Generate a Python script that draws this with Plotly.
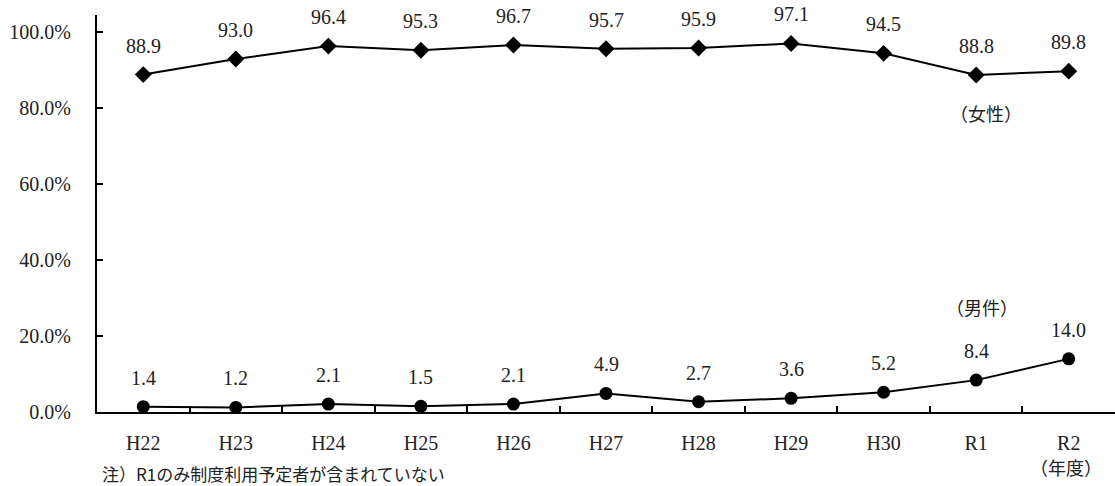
import plotly.graph_objects as go

years = ["H22", "H23", "H24", "H25", "H26", "H27", "H28", "H29", "H30", "R1", "R2"]
female = [88.9, 93.0, 96.4, 95.3, 96.7, 95.7, 95.9, 97.1, 94.5, 88.8, 89.8]
male = [1.4, 1.2, 2.1, 1.5, 2.1, 4.9, 2.7, 3.6, 5.2, 8.4, 14.0]
y_ticks = [0, 20, 40, 60, 80, 100]

FONT = "Liberation Serif, Noto Sans CJK JP, serif"
JP = "Noto Sans CJK JP, sans-serif"
TXT = "#222"

fig = go.Figure()
fig.add_trace(go.Scatter(x=years, y=female, mode="lines+markers",
                         line=dict(color="black", width=2),
                         marker=dict(symbol="diamond", size=13, color="black"),
                         showlegend=False))
fig.add_trace(go.Scatter(x=years, y=male, mode="lines+markers",
                         line=dict(color="black", width=2),
                         marker=dict(symbol="circle", size=13, color="black"),
                         showlegend=False))

ann = []
for x, v in zip(years, female):
    ann.append(dict(x=x, y=v, text=f"{v:.1f}", showarrow=False, yshift=29,
                    font=dict(family=FONT, size=20, color=TXT)))
for x, v in zip(years, male):
    ann.append(dict(x=x, y=v, text=f"{v:.1f}", showarrow=False, yshift=29,
                    font=dict(family=FONT, size=20, color=TXT)))
ann.append(dict(x="R1", y=female[9], text="（女性）", showarrow=False, yshift=-38, xshift=10,
                font=dict(family=JP, size=18, color=TXT)))
ann.append(dict(x="R1", y=male[9], text="（男件）", showarrow=False, yshift=73, xshift=6,
                font=dict(family=JP, size=18, color=TXT)))
ann.append(dict(x="R2", y=0, text="（年度）", showarrow=False, yshift=-55, xshift=-3,
                font=dict(family=JP, size=18, color=TXT)))
ann.append(dict(x=0.003, y=-0.118, xref="paper", yref="paper", xanchor="left", yanchor="top",
                text="注）R1のみ制度利用予定者が含まれていない", showarrow=False,
                font=dict(family=JP, size=17, color=TXT)))

fig.update_layout(
    width=1115, height=486,
    margin=dict(l=97, r=0, t=15, b=74, autoexpand=False),
    paper_bgcolor="white", plot_bgcolor="white",
    font=dict(family=FONT, size=20, color=TXT),
    annotations=ann,
    xaxis=dict(type="category", categoryorder="array", categoryarray=years,
               tickson="boundaries", ticks="inside", ticklen=6, tickwidth=1.5, tickcolor="black",
               showline=True, linecolor="black", linewidth=2, showgrid=False,
               range=[-0.5, 10.5], ticklabelstandoff=12),
    yaxis=dict(range=[0, 104.6], tickvals=y_ticks, ticktext=[f"{v:.1f}%" for v in y_ticks],
               ticks="inside", ticklen=6, tickwidth=1.5, tickcolor="black",
               showline=True, linecolor="black", linewidth=2, showgrid=False, zeroline=False,
               ticklabelstandoff=20),
)
fig.write_html("out.html", config={"displayModeBar": False},
               post_script="document.body.style.margin='0';")
